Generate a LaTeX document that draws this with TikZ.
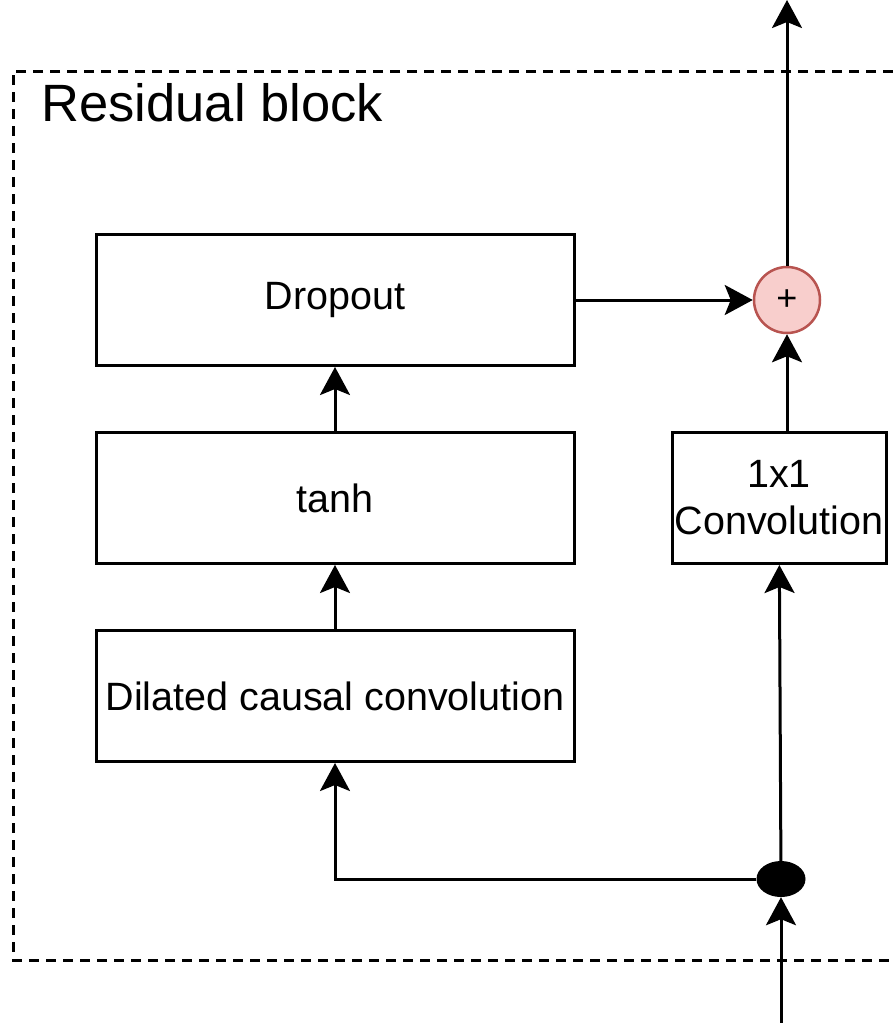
\documentclass[tikz,border=0pt]{standalone}
\usepackage{fontspec}
\setmainfont{Liberation Sans}
\usetikzlibrary{arrows.meta, positioning, shapes.geometric}
\definecolor{addfill}{HTML}{F8CECC}
\definecolor{addline}{HTML}{B85450}
\tikzset{
    block/.style={draw, line width=3pt, minimum width=478pt, minimum height=131pt,
        inner sep=0pt, align=center, font=\fontsize{39.5}{47}\selectfont},
    adder/.style={circle, draw=addline, fill=addfill, line width=2.5pt, minimum size=66pt,
        inner sep=0pt, font=\fontsize{36}{47}\selectfont},
    fork/.style={ellipse, fill=black, minimum width=49pt, minimum height=36pt, inner sep=0pt},
    wire/.style={line width=3pt, -{Stealth[length=28pt, width=30pt, inset=6pt]}},
    blockframe/.style={line width=3pt, dash pattern=on 10pt off 7pt}
}

\begin{document}
\begin{tikzpicture}[x=1pt, y=-1pt]
            \useasboundingbox (0,0) rectangle (893,1023);
            \draw[blockframe] (893,71) -- (13,71) -- (13,960) -- (893,960);
            \node[anchor=base west, font=\fontsize{52.5}{60}\selectfont] (title) at (38,121) {Residual block};
            \draw (335,300) node[block] (drop) {Dropout};
            \draw (335,498) node[block] (tanh) {tanh};
            \draw (335,696) node[block] (dil) {Dilated causal convolution};
            \draw (779,498) node[block, minimum width=214pt] (conv) {1x1\\Convolution};
            \draw (787,300) node[adder] (add) {+};
            \draw (781,879) node[fork] (split) {};
            \coordinate (in) at (781,1023);
            \coordinate (out) at (787,0);
            \path[wire]
            (in) edge (split)
            (split) edge (conv)
            (add |- conv.north) edge (add)
            (drop) edge (add)
            (add) edge (out)
            (dil) edge (tanh)
            (tanh) edge (drop);
            \draw[wire] (split) -| (dil);
        \end{tikzpicture}
\end{document}
